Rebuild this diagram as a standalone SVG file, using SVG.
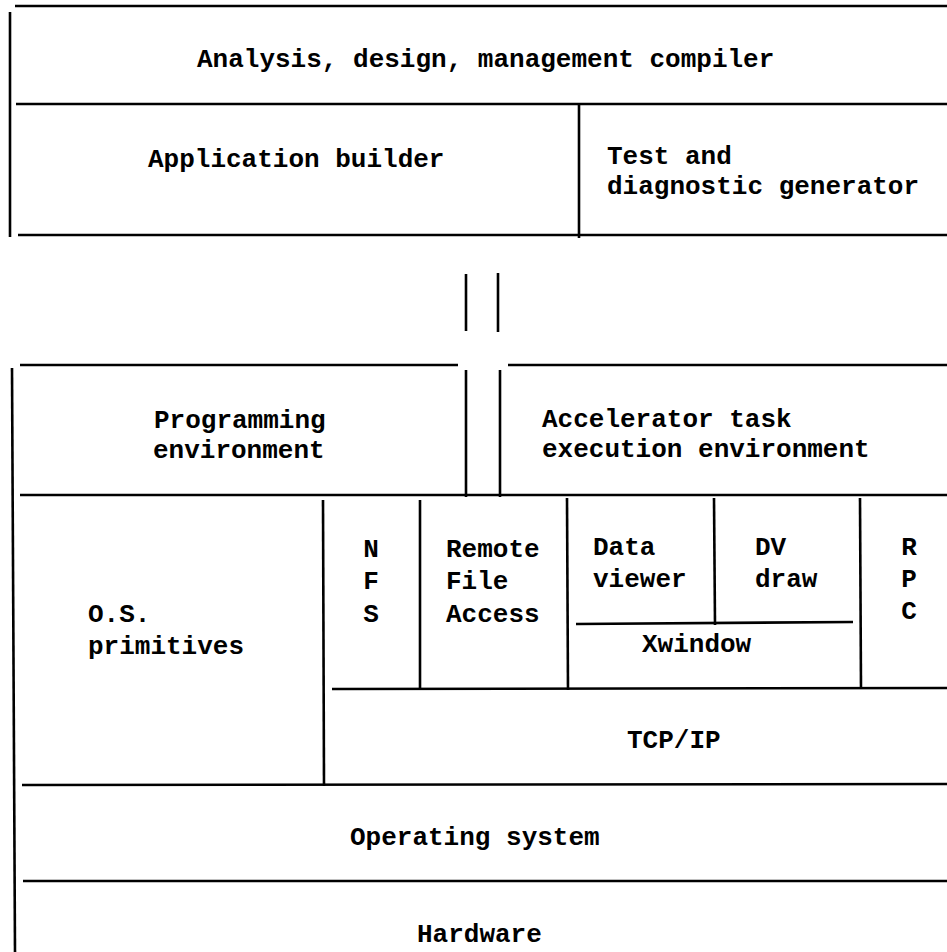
<svg xmlns="http://www.w3.org/2000/svg" width="947" height="952" viewBox="0 0 947 952">
  <style>
    .ln { stroke: #000; stroke-width: 2.6; fill: none; stroke-linecap: butt; }
    .t { font-family: "Liberation Mono", "Courier New", monospace; font-size: 26px; font-weight: bold; fill: #000; }
    .c { text-anchor: middle; }
  </style>
  <rect x="0" y="0" width="947" height="952" fill="#fff"/>
  <g id="frame">
    <line class="ln" x1="15" y1="6" x2="947" y2="6"/>
    <line class="ln" x1="10" y1="12" x2="10" y2="237"/>
    <line class="ln" x1="16" y1="104" x2="947" y2="104"/>
    <line class="ln" x1="18" y1="235" x2="947" y2="235"/>
    <line class="ln" x1="579" y1="104" x2="579" y2="238"/>
    <line class="ln" x1="20" y1="365" x2="458" y2="365"/>
    <line class="ln" x1="508" y1="365" x2="947" y2="365"/>
    <line class="ln" x1="12" y1="368" x2="15" y2="952"/>
    <line class="ln" x1="466" y1="370" x2="466" y2="497"/>
    <line class="ln" x1="500" y1="370" x2="500" y2="497"/>
    <line class="ln" x1="20" y1="495" x2="947" y2="495"/>
    <line class="ln" x1="323" y1="500" x2="324" y2="786"/>
    <line class="ln" x1="420" y1="500" x2="420" y2="690"/>
    <line class="ln" x1="332" y1="689" x2="947" y2="688"/>
    <line class="ln" x1="567" y1="498" x2="568" y2="690"/>
    <line class="ln" x1="714" y1="498" x2="715" y2="625"/>
    <line class="ln" x1="576" y1="624" x2="853" y2="622"/>
    <line class="ln" x1="860" y1="498" x2="861" y2="689"/>
    <line class="ln" x1="22" y1="785" x2="947" y2="784"/>
    <line class="ln" x1="23" y1="881" x2="947" y2="881"/>
  </g>
  <g id="connectors">
    <line class="ln" x1="466" y1="274" x2="466" y2="331"/>
    <line class="ln" x1="498" y1="273" x2="498" y2="332"/>
  </g>
  <g id="node-analysis">
    <text class="t" x="197" y="67">Analysis, design, management compiler</text>
  </g>
  <g id="node-appbuilder">
    <text class="t" x="148" y="167">Application builder</text>
  </g>
  <g id="node-testdiag">
    <text class="t" x="607" y="164">Test and</text>
    <text class="t" x="607" y="194">diagnostic generator</text>
  </g>
  <g id="node-progenv">
    <text class="t" x="154" y="428">Programming</text>
    <text class="t" x="153" y="458">environment</text>
  </g>
  <g id="node-accel">
    <text class="t" x="542" y="427">Accelerator task</text>
    <text class="t" x="542" y="457">execution environment</text>
  </g>
  <g id="node-osprim">
    <text class="t" x="88" y="622">O.S.</text>
    <text class="t" x="88" y="654">primitives</text>
  </g>
  <g id="node-nfs">
    <text class="t c" x="371" y="557">N</text>
    <text class="t c" x="371" y="589">F</text>
    <text class="t c" x="371" y="622">S</text>
  </g>
  <g id="node-rfa">
    <text class="t" x="446" y="557">Remote</text>
    <text class="t" x="446" y="589">File</text>
    <text class="t" x="446" y="622">Access</text>
  </g>
  <g id="node-dataviewer">
    <text class="t" x="593" y="555">Data</text>
    <text class="t" x="593" y="587">viewer</text>
  </g>
  <g id="node-dvdraw">
    <text class="t" x="755" y="555">DV</text>
    <text class="t" x="755" y="587">draw</text>
  </g>
  <g id="node-rpc">
    <text class="t c" x="909" y="555">R</text>
    <text class="t c" x="909" y="587">P</text>
    <text class="t c" x="909" y="619">C</text>
  </g>
  <g id="node-xwindow">
    <text class="t" x="642" y="652">Xwindow</text>
  </g>
  <g id="node-tcpip">
    <text class="t" x="627" y="748">TCP/IP</text>
  </g>
  <g id="node-os">
    <text class="t" x="350" y="845">Operating system</text>
  </g>
  <g id="node-hardware">
    <text class="t" x="417" y="942">Hardware</text>
  </g>
</svg>
